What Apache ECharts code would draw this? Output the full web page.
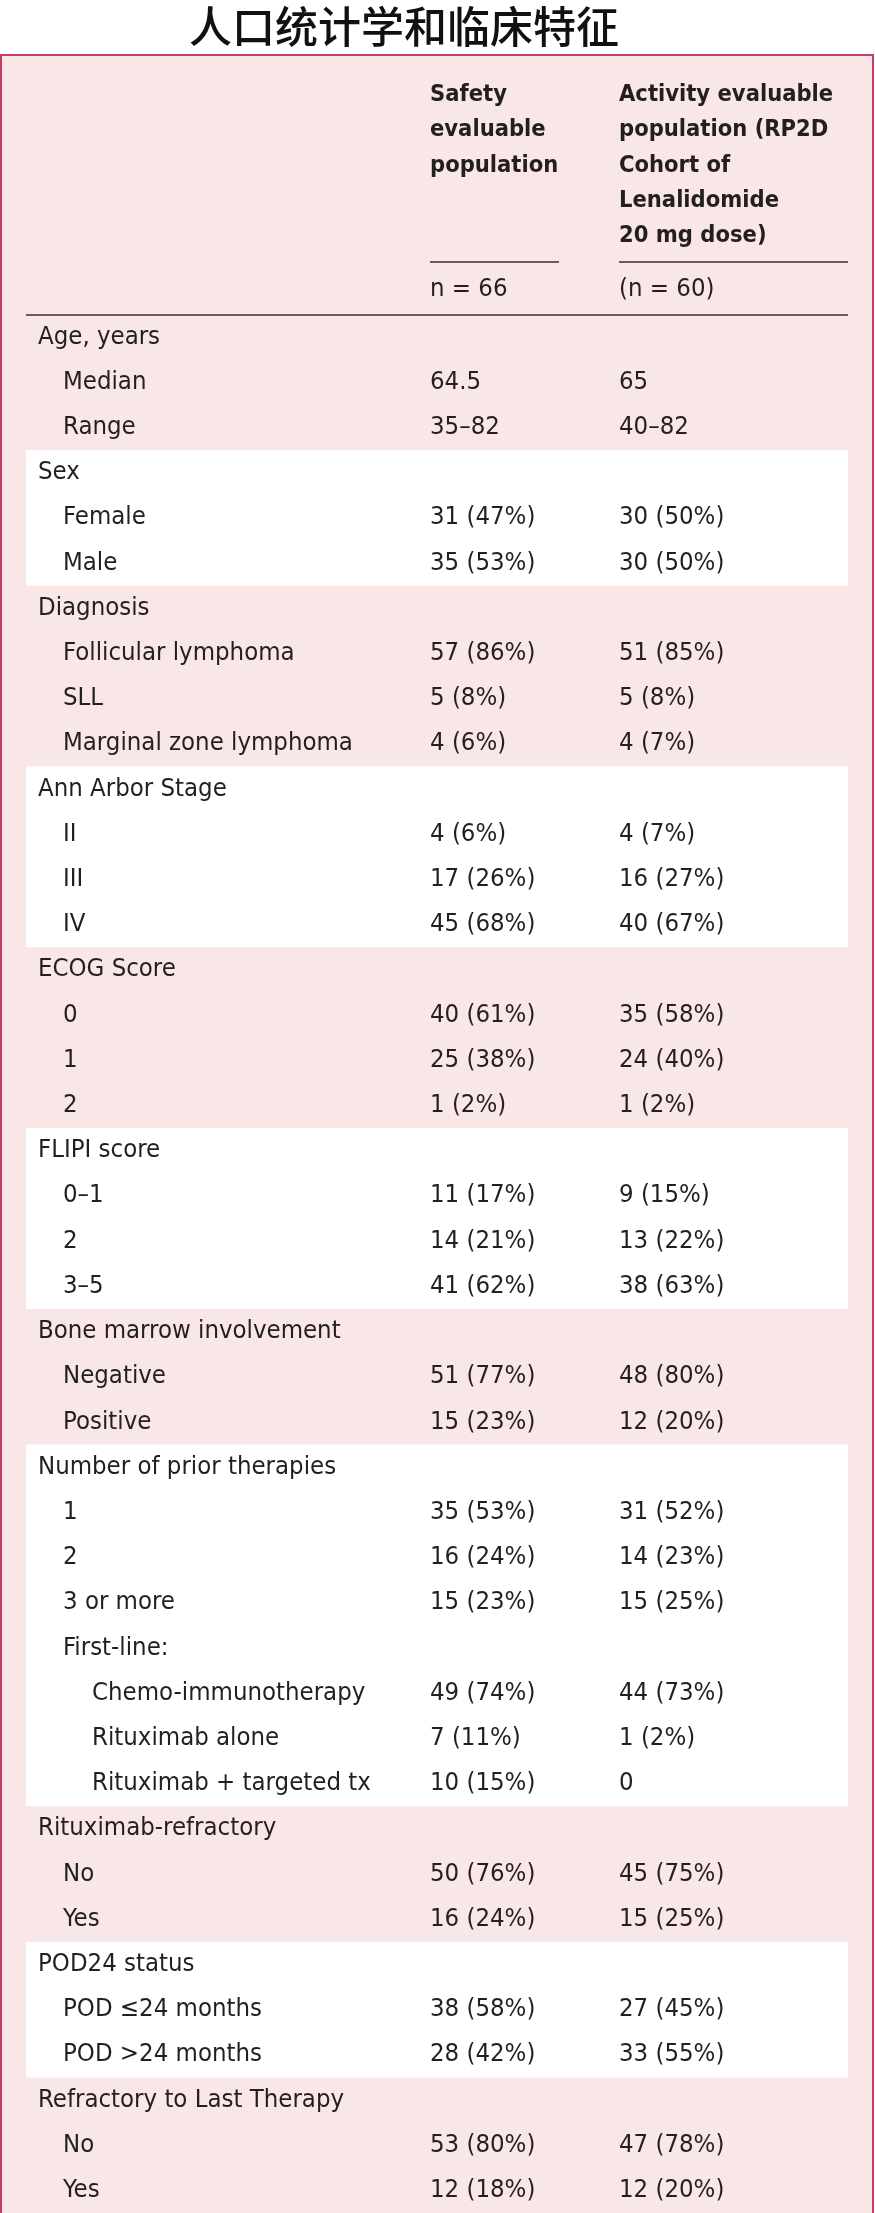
<!DOCTYPE html>
<html>
<head>
<meta charset="utf-8">
<script src="https://cdn.jsdelivr.net/npm/echarts@6/dist/echarts.min.js"></script>
<style>
html,body{margin:0;padding:0;background:#ffffff;}
#chart{width:875px;height:2213px;}
</style>
</head>
<body>
<div id="chart"></div>
<script>
// ---------- data ----------
const titleText = '人口统计学和临床特征';
const headerSafety = ['Safety', 'evaluable', 'population'];
const headerActivity = ['Activity evaluable', 'population (RP2D', 'Cohort of', 'Lenalidomide', '20 mg dose)'];
const nSafety = 'n = 66';
const nActivity = '(n = 60)';

const rowLabels = [
  'Age, years', 'Median', 'Range',
  'Sex', 'Female', 'Male',
  'Diagnosis', 'Follicular lymphoma', 'SLL', 'Marginal zone lymphoma',
  'Ann Arbor Stage', 'II', 'III', 'IV',
  'ECOG Score', '0', '1', '2',
  'FLIPI score', '0–1', '2', '3–5',
  'Bone marrow involvement', 'Negative', 'Positive',
  'Number of prior therapies', '1', '2', '3 or more', 'First-line:',
  'Chemo-immunotherapy', 'Rituximab alone', 'Rituximab + targeted tx',
  'Rituximab-refractory', 'No', 'Yes',
  'POD24 status', 'POD ≤24 months', 'POD >24 months',
  'Refractory to Last Therapy', 'No', 'Yes'
];
const rowLevel = [
  0, 1, 1,
  0, 1, 1,
  0, 1, 1, 1,
  0, 1, 1, 1,
  0, 1, 1, 1,
  0, 1, 1, 1,
  0, 1, 1,
  0, 1, 1, 1, 1,
  2, 2, 2,
  0, 1, 1,
  0, 1, 1,
  0, 1, 1
];
const safetyValues = [
  '', '64.5', '35–82',
  '', '31 (47%)', '35 (53%)',
  '', '57 (86%)', '5 (8%)', '4 (6%)',
  '', '4 (6%)', '17 (26%)', '45 (68%)',
  '', '40 (61%)', '25 (38%)', '1 (2%)',
  '', '11 (17%)', '14 (21%)', '41 (62%)',
  '', '51 (77%)', '15 (23%)',
  '', '35 (53%)', '16 (24%)', '15 (23%)', '',
  '49 (74%)', '7 (11%)', '10 (15%)',
  '', '50 (76%)', '16 (24%)',
  '', '38 (58%)', '28 (42%)',
  '', '53 (80%)', '12 (18%)'
];
const activityValues = [
  '', '65', '40–82',
  '', '30 (50%)', '30 (50%)',
  '', '51 (85%)', '5 (8%)', '4 (7%)',
  '', '4 (7%)', '16 (27%)', '40 (67%)',
  '', '35 (58%)', '24 (40%)', '1 (2%)',
  '', '9 (15%)', '13 (22%)', '38 (63%)',
  '', '48 (80%)', '12 (20%)',
  '', '31 (52%)', '14 (23%)', '15 (25%)', '',
  '44 (73%)', '1 (2%)', '0',
  '', '45 (75%)', '15 (25%)',
  '', '27 (45%)', '33 (55%)',
  '', '47 (78%)', '12 (20%)'
];
// groups drawn on a white band: [first row, last row]
const whiteBands = [[3, 5], [10, 13], [18, 21], [25, 32], [36, 38]];

// ---------- layout / style ----------
const W = 875, H = 2213;
const FONT = '"DejaVu Sans Condensed", "Liberation Sans Narrow", "DejaVu Sans", sans-serif';
const BODY_SIZE = 25.5;
const HEAD_SIZE = 23.5;
const TXT = '#231f20';
const PINK = '#f9e6e6';
const FRAME = '#c43d65';
const indentX = [38, 63, 92];
const col1X = 430, col2X = 619;
const bandX0 = 26, bandX1 = 848;
const rowH = 45.32;
const gridTop = 314.34;
const nRows = rowLabels.length;

const chart = echarts.init(document.getElementById('chart'), null, {renderer: 'canvas'});

const headerLineH = 35.2;
const headerTop = 95;
const headerGraphics = [];
headerSafety.forEach((t, i) => headerGraphics.push({
  type: 'text', x: col1X, y: headerTop + i * headerLineH, z: 10,
  style: {text: t, fill: TXT, fontSize: HEAD_SIZE, fontWeight: 'bold', fontFamily: FONT, align: 'left', verticalAlign: 'middle'}
}));
headerActivity.forEach((t, i) => headerGraphics.push({
  type: 'text', x: col2X, y: headerTop + i * headerLineH, z: 10,
  style: {text: t, fill: TXT, fontSize: HEAD_SIZE, fontWeight: 'bold', fontFamily: FONT, align: 'left', verticalAlign: 'middle'}
}));
headerGraphics.push(
  {type: 'text', x: col1X, y: 289, z: 10, style: {text: nSafety, fill: TXT, fontSize: BODY_SIZE, fontFamily: FONT, align: 'left', verticalAlign: 'middle'}},
  {type: 'text', x: col2X, y: 289, z: 10, style: {text: nActivity, fill: TXT, fontSize: BODY_SIZE, fontFamily: FONT, align: 'left', verticalAlign: 'middle'}},
  {type: 'line', z: 10, shape: {x1: col1X, y1: 262, x2: 559, y2: 262}, style: {stroke: '#3a2e2f', lineWidth: 1.5}},
  {type: 'line', z: 10, shape: {x1: col2X, y1: 262, x2: bandX1, y2: 262}, style: {stroke: '#3a2e2f', lineWidth: 1.5}},
  {type: 'line', z: 10, shape: {x1: bandX0, y1: 315, x2: bandX1, y2: 315}, style: {stroke: '#3a2e2f', lineWidth: 1.5}}
);

const option = {
  animation: false,
  backgroundColor: '#ffffff',
  grid: {left: 0, right: 0, top: gridTop, height: rowH * nRows},
  xAxis: {type: 'value', min: 0, max: W, show: false},
  yAxis: {type: 'value', min: -0.5, max: nRows - 0.5, inverse: true, show: false},
  graphic: [
    {type: 'rect', z: -10, shape: {x: 1, y: 55, width: W - 3, height: H}, style: {fill: PINK, stroke: FRAME, lineWidth: 2}},
    {type: 'text', x: 404, y: 27, z: 10,
      style: {text: titleText, fill: '#111111', fontSize: 43, fontWeight: 500, fontFamily: '"Noto Sans CJK SC", sans-serif', align: 'center', verticalAlign: 'middle'}}
  ].concat(headerGraphics),
  series: [
    {
      type: 'custom',
      z: 1,
      silent: true,
      data: whiteBands,
      encode: {x: -1, y: [0, 1]},
      renderItem: function (params, api) {
        const p0 = api.coord([bandX0, api.value(0) - 0.5]);
        const p1 = api.coord([bandX1, api.value(1) + 0.5]);
        return {type: 'rect', shape: {x: p0[0], y: p0[1], width: p1[0] - p0[0], height: p1[1] - p0[1]}, style: {fill: '#ffffff'}};
      }
    },
    {
      type: 'custom',
      z: 5,
      silent: true,
      data: rowLabels.map((_, i) => [i]),
      encode: {x: -1, y: 0},
      renderItem: function (params, api) {
        const i = api.value(0);
        const pl = api.coord([indentX[rowLevel[i]], i]);
        const p1 = api.coord([col1X, i]);
        const p2 = api.coord([col2X, i]);
        const mk = (p, t) => ({type: 'text', x: p[0], y: p[1],
          style: {text: t, fill: TXT, fontSize: BODY_SIZE, fontFamily: FONT, align: 'left', verticalAlign: 'middle'}});
        return {type: 'group', children: [mk(pl, rowLabels[i]), mk(p1, safetyValues[i]), mk(p2, activityValues[i])]};
      }
    }
  ]
};
chart.setOption(option);
</script>
</body>
</html>
